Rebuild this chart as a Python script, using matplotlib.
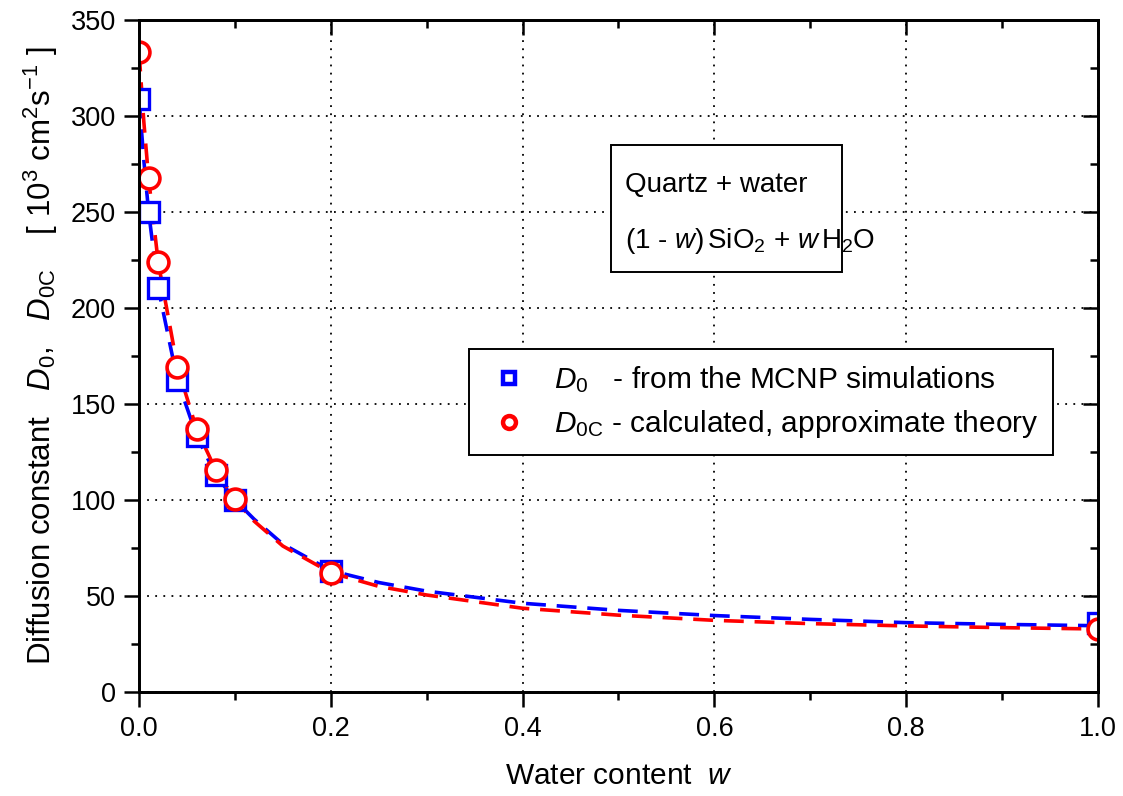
import matplotlib
matplotlib.use('Agg')
import matplotlib.pyplot as plt
from matplotlib.patches import Rectangle
from matplotlib.ticker import MultipleLocator, FormatStrFormatter

# measured points
w_pts = [0.0, 0.01, 0.02, 0.04, 0.06, 0.08, 0.1, 0.2, 1.0]
d0_pts = [309, 250, 210.5, 162.5, 133.5, 113, 100, 63.2, 36]
d0c_pts = [333.5, 267.5, 223.8, 169.4, 137, 115.6, 100.3, 62.1, 32.8]

# dashed fit curves
w_fit = [0.0, 0.005, 0.01, 0.02, 0.04, 0.06, 0.08, 0.1, 0.12, 0.15, 0.2,
         0.25, 0.3, 0.4, 0.5, 0.6, 0.7, 0.8, 0.9, 1.0]
d0_fit = [309, 277, 250, 210.5, 162.5, 133.5, 113, 100, 90, 77, 63.2,
          57, 52.5, 46.2, 42.5, 39.8, 37.8, 36.1, 35.2, 34.5]
d0c_fit = [333.5, 297, 267.5, 223.8, 169.4, 137, 115.6, 100.3, 89, 76, 62.1,
           55, 50.5, 43.6, 40, 37.3, 35.6, 34.4, 33.5, 32.8]

plt.rcParams['font.family'] = ['Liberation Sans', 'DejaVu Sans']
plt.rcParams['mathtext.fontset'] = 'custom'
plt.rcParams['mathtext.rm'] = 'Liberation Sans'
plt.rcParams['mathtext.it'] = 'Liberation Sans:italic'

fig = plt.figure(figsize=(11.23, 7.96), dpi=100)
ax = fig.add_axes([0.1238, 0.1307, 0.8539, 0.8442])

dash = (0, (5.5, 3))
ax.plot(w_fit, d0_fit, color='#0000ff', lw=2.6, linestyle=dash, zorder=3)
ax.plot(w_fit, d0c_fit, color='#ff0000', lw=2.6, linestyle=dash, zorder=3)
ax.plot(w_pts, d0_pts, 's', ms=14, mfc='white', mec='#0000ff', mew=2.4,
        label=r'$D_0$   - from the MCNP simulations', zorder=4)
ax.plot(w_pts, d0c_pts, 'o', ms=15, mfc='white', mec='#ff0000', mew=2.6,
        label=r'$D_{0\mathrm{C}}$ - calculated, approximate theory', zorder=5)

ax.set_xlim(0, 1)
ax.set_ylim(0, 350)
ax.xaxis.set_major_locator(MultipleLocator(0.2))
ax.xaxis.set_minor_locator(MultipleLocator(0.1))
ax.yaxis.set_major_locator(MultipleLocator(50))
ax.yaxis.set_minor_locator(MultipleLocator(25))
ax.xaxis.set_major_formatter(FormatStrFormatter('%.1f'))

ax.grid(which='major', color='black', linestyle=(0, (1, 3.5)), lw=1.3)
for s in ax.spines.values():
    s.set_linewidth(1.8)

ax.tick_params(which='both', width=1.8, labelsize=19.5)
ax.tick_params(which='major', length=10.5)
ax.tick_params(which='minor', length=5.5)
ax.tick_params(axis='x', which='both', direction='out', pad=7)
ax.tick_params(axis='y', which='both', direction='out', pad=6)
# inward ticks on the top and right
ax2 = ax.twinx()
ax2.set_ylim(ax.get_ylim())
ax2.yaxis.set_major_locator(MultipleLocator(50))
ax2.yaxis.set_minor_locator(MultipleLocator(25))
ax2.tick_params(which='both', direction='in', width=1.8, labelright=False)
ax2.tick_params(which='major', length=10.5)
ax2.tick_params(which='minor', length=5.5)
ax3 = ax.twiny()
ax3.set_xlim(ax.get_xlim())
ax3.xaxis.set_major_locator(MultipleLocator(0.2))
ax3.xaxis.set_minor_locator(MultipleLocator(0.1))
ax3.tick_params(which='both', direction='in', width=1.8, labeltop=False)
ax3.tick_params(which='major', length=10.5)
ax3.tick_params(which='minor', length=5.5)
for a in (ax2, ax3):
    for s in a.spines.values():
        s.set_linewidth(1.8)

ax.set_xlabel(r'Water content  $w$', fontsize=21.5, labelpad=14)
ax.set_ylabel(r'Diffusion constant   $D_0$,   $D_{0\mathrm{C}}$    [ $10^3$ cm$^2$s$^{-1}$ ]',
              fontsize=22.5, labelpad=8)

leg = ax3.legend(*ax.get_legend_handles_labels(), loc='upper left',
                 bbox_to_anchor=(0.344, 0.510), borderaxespad=0,
                 fancybox=False, framealpha=1, edgecolor='black',
                 markerscale=0.62, handlelength=1.7, handletextpad=0.65,
                 borderpad=0.5, labelspacing=0.45, fontsize=21.5)
leg.get_frame().set_linewidth(1.4)
for h in leg.legend_handles:
    h.set_markeredgewidth(3.2)

# annotation box
ax3.add_patch(Rectangle((0.4922, 0.625), 0.2409, 0.189, transform=ax.transAxes,
                        fc='white', ec='black', lw=1.4, zorder=6))
ax3.text(0.5068, 0.754, 'Quartz + water', transform=ax.transAxes,
         fontsize=20, va='center', ha='left', zorder=7)
ax3.text(0.5068, 0.671, r'(1 - $w$)$\,$SiO$_2$ + $w\,$H$_2$O', transform=ax.transAxes,
         fontsize=20, va='center', ha='left', zorder=7)

fig.savefig('out.png', dpi=100)
